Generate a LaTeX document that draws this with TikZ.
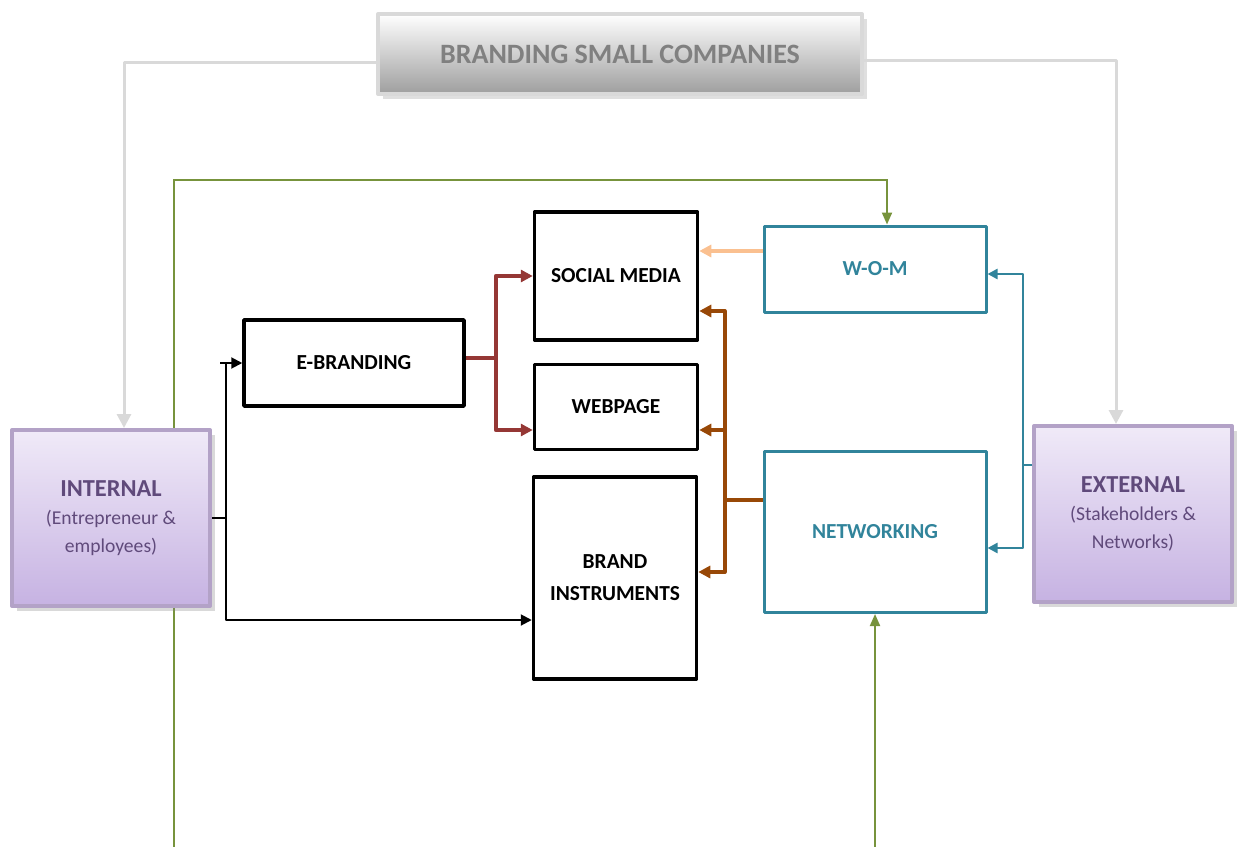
\documentclass[tikz,border=0pt]{standalone}
\usepackage{fontspec}
\setmainfont{Carlito}
\usetikzlibrary{shadows,arrows.meta,calc,backgrounds}
\definecolor{tealc}{HTML}{31849B}
\definecolor{purpleline}{HTML}{B3A2C7}
\definecolor{purpletext}{HTML}{604A7B}
\definecolor{purpletop}{HTML}{F0EAF8}
\definecolor{purplebot}{HTML}{C6B2E2}
\definecolor{greenc}{HTML}{77933C}
\definecolor{redc}{HTML}{953735}
\definecolor{brownc}{HTML}{984807}
\definecolor{orangec}{HTML}{FAC090}
\definecolor{greyc}{HTML}{D9D9D9}

\begin{document}
\begin{tikzpicture}[x=0.5pt,y=-0.5pt, line join=round]
\tikzstyle{every node}=[inner sep=0pt, align=center]
\tikzstyle{box}=[draw=black, line width=1.75pt, font=\bfseries\fontsize{10.7}{16}\selectfont]
\tikzstyle{tealbox}=[box, line width=1.5pt, draw=tealc, text=tealc]
\tikzstyle{sidebox}=[draw=purpleline, line width=2pt, top color=purpletop, bottom color=purplebot, drop shadow={opacity=0.3}, text=purpletext, font=\fontsize{9.8}{14}\selectfont, minimum width=99pt, minimum height=88pt]
\tikzstyle{headbox}=[draw=greyc, line width=2pt, top color=white, bottom color=black!38, drop shadow={opacity=0.25}, text=black!50, font=\bfseries\fontsize{14}{18}\selectfont, minimum width=242pt, minimum height=40pt]
\tikzstyle{greyline}=[draw=greyc, line width=1.5pt, -{Triangle[length=7pt,width=7pt]}]
\tikzstyle{greenline}=[draw=greenc, line width=1pt, -{Triangle[length=6pt,width=5pt]}]
\tikzstyle{blackline}=[draw=black, line width=1pt, -{Triangle[length=5.5pt,width=5.5pt]}]
\tikzstyle{redline}=[draw=redc, line width=2pt, -{Triangle[length=6pt,width=6pt]}]
\tikzstyle{brownline}=[draw=brownc, line width=2pt, -{Triangle[length=6pt,width=6pt]}]
\tikzstyle{orangeline}=[draw=orangec, line width=2pt, -{Triangle[length=6pt,width=6pt]}]
\tikzstyle{tealline}=[draw=tealc, line width=1.2pt, -{Triangle[length=5pt,width=5pt]}]

\useasboundingbox (0,0) rectangle (1240,846);

\node[headbox] (title) at (620,54) {BRANDING SMALL COMPANIES};
\node[sidebox] (internal) at (111,518) {{\bfseries\fontsize{12.2}{16}\selectfont INTERNAL}\\(Entrepreneur \&\\employees)};
\node[sidebox] (external) at (1133,514) {{\bfseries\fontsize{12.2}{16}\selectfont EXTERNAL}\\(Stakeholders \&\\Networks)};

\node[box, minimum width=110pt, minimum height=43pt] (ebrand) at (354,363) {E-BRANDING};
\node[box, minimum width=81.5pt, minimum height=64pt] (social) at (616,276) {SOCIAL MEDIA};
\node[box, minimum width=81.5pt, minimum height=42.5pt] (webpage) at (616,407) {WEBPAGE};
\node[box, minimum width=81.5pt, minimum height=101pt] (brand) at (615,578) {BRAND\\INSTRUMENTS};
\node[tealbox, minimum width=111pt, minimum height=43pt] (wom) at (875,269) {W-O-M};
\node[tealbox, minimum width=111pt, minimum height=80.5pt] (networking) at (875,532) {NETWORKING};

\begin{pgfonlayer}{background}
\coordinate (gstart) at (174,880);
\coordinate (gtop) at (887,180);
\draw[greenline] (gstart) |- (gtop) -- (gtop |- wom.north);
\draw[greenline] (gstart) -| (networking.south);
\end{pgfonlayer}

\draw[greyline] ($(title.west)+(0,8)$) -| ($(internal.north)+(13,0)$);
\draw[greyline] ($(title.east)+(0,6)$) -| ($(external.north)+(-17,0)$);

\draw[blackline] (internal.east) -- ++(14,0) |- (ebrand.west);
\draw[blackline] (internal.east) -- ++(14,0) |- ($(brand.west)+(0,42)$);
\draw[black, line width=1pt] ($(ebrand.west)+(-22,0)$) -- ++(12,0);

\draw[redline] ($(ebrand.east)+(0,-5)$) -- ++(30,0) |- (social.west);
\draw[redline] ($(ebrand.east)+(0,-5)$) -- ++(30,0) |- ($(webpage.west)+(0,23)$);

\draw[orangeline] ($(wom.west)+(0,-18)$) coordinate (o) -- (o -| social.east);

\coordinate (bj) at ($(networking.west)+(-38,-32)$);
\draw[brownc, line width=2pt] ($(networking.west)+(0,-32)$) -- (bj);
\draw[brownline] (bj) |- ($(social.east)+(0,35)$);
\draw[brownline] (bj) |- ($(webpage.east)+(0,23)$);
\draw[brownline] (bj) |- ($(brand.east)+(0,-6)$);

\coordinate (tj) at ($(external.west)+(-9,-49)$);
\draw[tealc, line width=1.2pt] ($(external.west)+(0,-49)$) -- (tj);
\draw[tealline] (tj) |- ($(wom.east)+(0,5)$);
\draw[tealline] (tj) |- ($(networking.east)+(0,16)$);
\end{tikzpicture}
\end{document}
